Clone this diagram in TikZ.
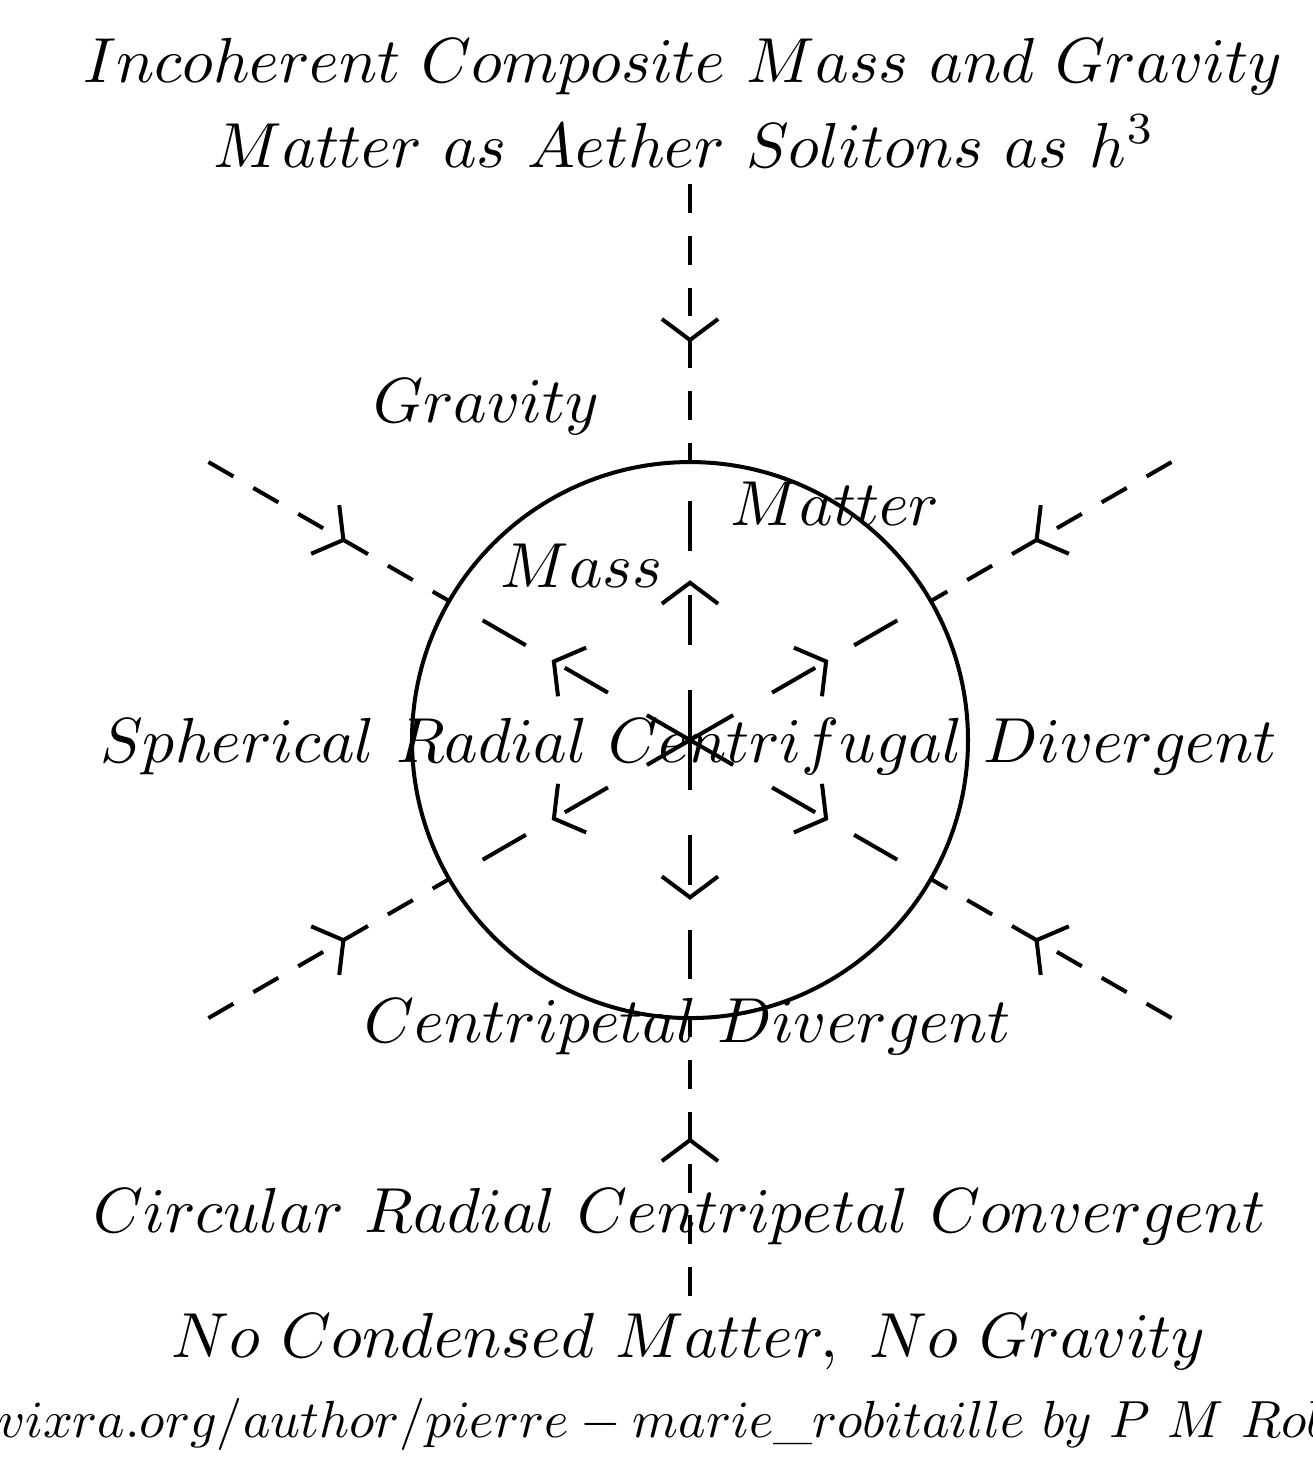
\documentclass[tikz,border=0pt]{standalone}
\usepackage{amsmath}
\usepackage{tikz}
\usetikzlibrary{arrows.meta,calc,decorations.markings}
\definecolor{ink}{HTML}{000000}
\tikzset{
  txt/.style={font=\fontsize{10}{12}\selectfont,scale=1.303,inner sep=0pt,anchor=base,text=ink},
  barbmark/.style={postaction={decorate},decoration={markings,
      mark=at position #1 with {\arrow{Straight Barb[length=4.3pt,width=11.5pt]}}}},
  rayin/.style={draw=ink,line width=0.82pt,dash pattern=on 5.9pt off 4.7pt,barbmark=0.57},
  rayout/.style={draw=ink,line width=0.82pt,dash pattern=on 10.2pt off 9.2pt,barbmark=0.575},
}

\begin{document}
\begin{tikzpicture}
        \useasboundingbox (-4.964,-5.165) rectangle (4.475,5.324);
        \clip (-4.964,-5.165) rectangle (4.475,5.324);
        \coordinate (O) at (0,0);
        \node[draw=ink,circle,line width=0.82pt,minimum size=4cm,inner sep=0pt,outer sep=0pt] (sphere) at (O) {};
        \foreach \a in {30,90,150,210,270,330}{
          \coordinate (far\a) at (\a:4);
          \draw[rayin] (far\a) -- (sphere.\a);
          \draw[rayout] (O) -- (sphere.\a);
        }
        \node[txt] (head) at (-0.05,4.734) {$Incoherent\ Composite\ Mass\ and\ Gravity$};
        \node[txt] (sub) at (-0.04,4.122) {$Matter\ as\ Aether\ Solitons\ as\ h^3$};
        \node[txt] (grav) at (-1.468,2.288) {$Gravity$};
        \node[txt] (matter) at (1.043,1.547) {$Matter$};
        \node[txt] (mass) at (-0.781,1.094) {$Mass$};
        \node[txt] (sph) at (-0.007,-0.158) {$Spherical\ Radial\ Centrifugal\ Divergent$};
        \node[txt] (cpd) at (-0.014,-2.173) {$Centripetal\ Divergent$};
        \node[txt] (circ) at (-0.072,-3.540) {$Circular\ Radial\ Centripetal\ Convergent$};
        \node[txt] (none) at (-0.007,-4.439) {$No\ Condensed\ Matter,\ No\ Gravity$};
        \node[txt,scale=0.82,anchor=base west] (src) at (-4.985,-5.014) {$vixra.org/author/pierre-marie\_robitaille\ by\ P\ M\ Robitaille$};
      \end{tikzpicture}
\end{document}
